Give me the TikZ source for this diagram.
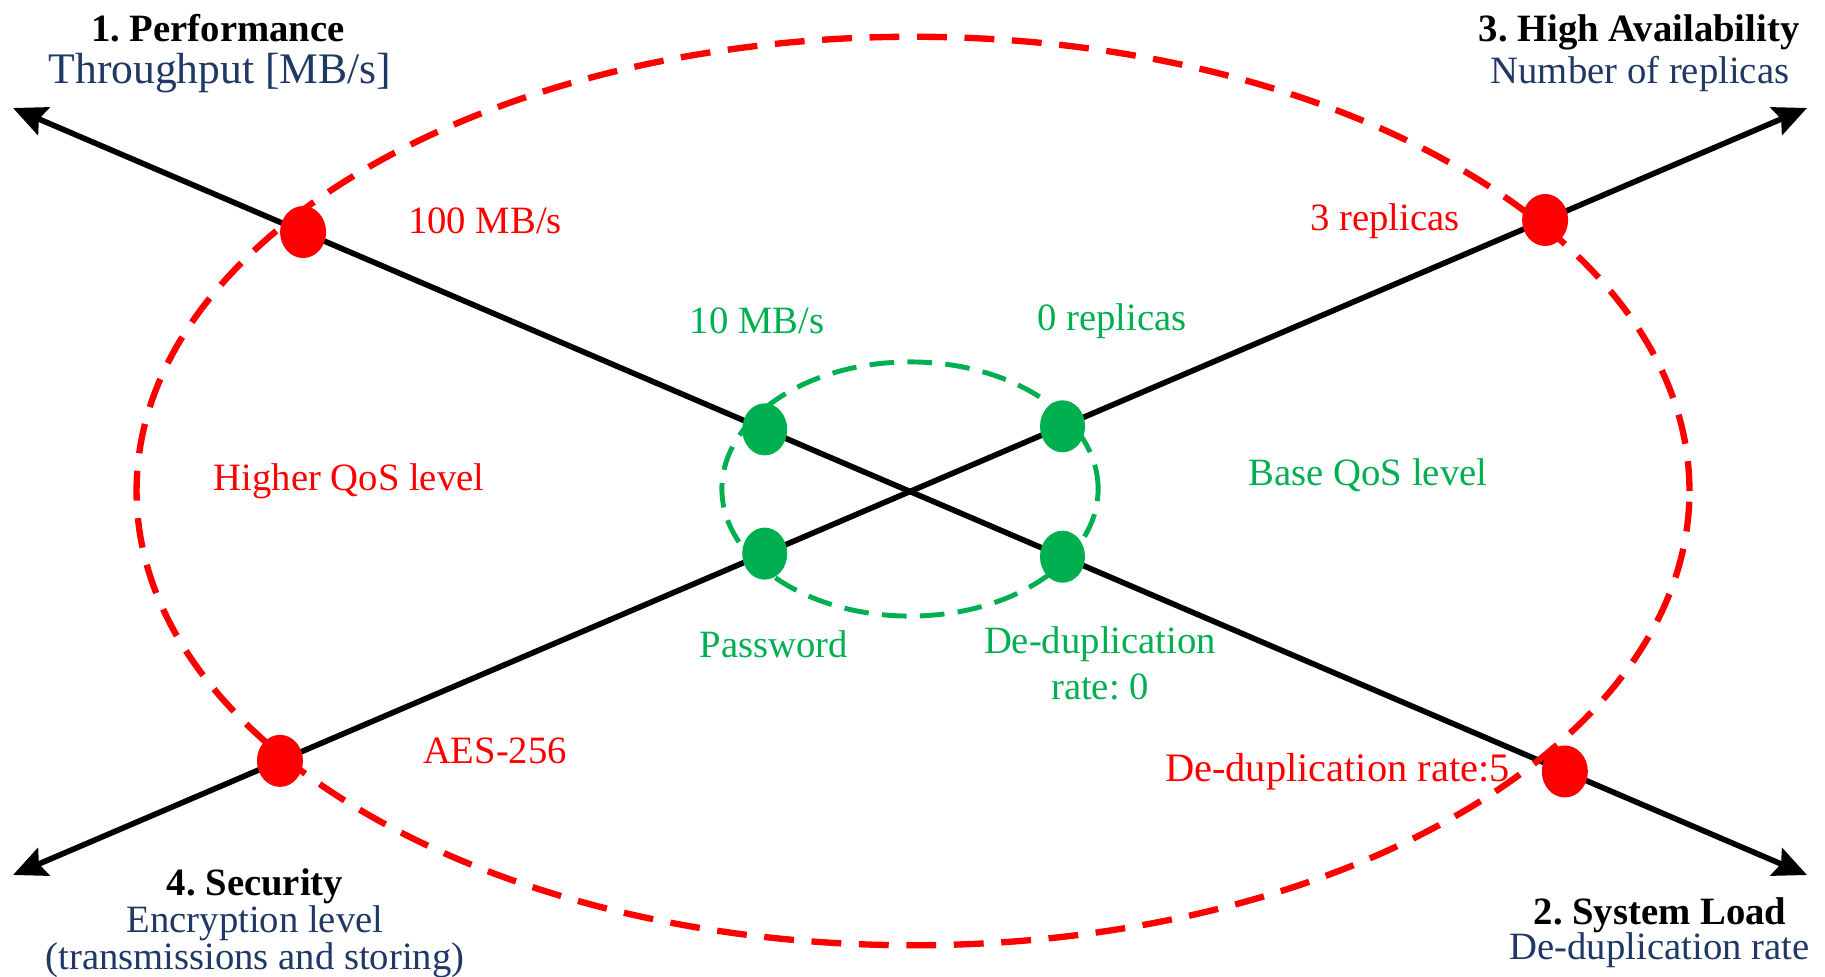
\documentclass[tikz,border=0pt]{standalone}
\usepackage{fontspec}
\setmainfont{Liberation Serif}
\usetikzlibrary{arrows.meta,calc,shapes.geometric}
\frenchspacing

\definecolor{qosred}{RGB}{255,0,0}
\definecolor{qosgreen}{RGB}{0,176,80}
\definecolor{axisblue}{RGB}{31,56,100}

\tikzset{
    axis/.style={line width=1.6pt, {Stealth[length=9.5pt,width=8.5pt,inset=1.5pt]}-{Stealth[length=9.5pt,width=8.5pt,inset=1.5pt]}},
    reddot/.style={ellipse, fill=qosred, minimum width=0.46cm, minimum height=0.52cm, inner sep=0pt},
    greendot/.style={ellipse, fill=qosgreen, minimum width=0.45cm, minimum height=0.52cm, inner sep=0pt},
    axistitle/.style={font=\fontsize{11}{12}\selectfont\bfseries, inner sep=0pt, anchor=base},
    axissub/.style={text=axisblue, font=\fontsize{11}{10.5}\selectfont, inner sep=0pt, anchor=base, align=center},
    redlabel/.style={text=qosred, font=\fontsize{11}{13}\selectfont, inner sep=1pt},
    greenlabel/.style={text=qosgreen, font=\fontsize{11}{13}\selectfont, inner sep=1pt, align=center},
}

\begin{document}
\begin{tikzpicture}[x=0.01cm, y=-0.01cm]
        \useasboundingbox (0,0) rectangle (1825,976);

        % --- 軸の端点 ---
        \coordinate (perf)  at (13,108);
        \coordinate (load)  at (1807,875);
        \coordinate (sec)   at (13,875);
        \coordinate (avail) at (1807,108);

        % --- 座標軸 ---
        \draw[axis] (perf) -- (load);
        \draw[axis] (sec) -- (avail);

        % --- QoSレベルの楕円 ---
        \draw[qosred, line width=1.8pt, dash pattern=on 8.5pt off 5pt]
            (913,491) ellipse [x radius=7.76cm, y radius=4.54cm];
        \draw[qosgreen, line width=1.4pt, dash pattern=on 7pt off 3.8pt]
            (910,489) ellipse [x radius=1.88cm, y radius=1.27cm];

        % --- 点 ---
        \node[reddot] (perfhi)  at ($(perf)!0.1617!(load)$) {};
        \node[reddot] (loadhi)  at ($(perf)!0.865!(load)$) {};
        \node[reddot] (sechi)   at ($(sec)!0.1488!(avail)$) {};
        \node[reddot] (availhi) at ($(sec)!0.854!(avail)$) {};
        \foreach \ax/\bx/\nm/\t in {perf/load/perflo/0.419, perf/load/loadlo/0.585,
                                    sec/avail/seclo/0.419, sec/avail/availlo/0.585} {
            \node[greendot] (\nm) at ($(\ax)!\t!(\bx)$) {};
        }

        % --- 軸のラベル ---
        % 複数行のノードは最終行のベースラインで置く
        \node[axistitle] (perfT)  at (218,42) {1. Performance};
        \node[axissub, font=\fontsize{12.4}{14}\selectfont] (perfS) at (220,84) {Throughput [MB/s]};
        \node[axistitle, anchor=base east] (availT) at (1800,42) {3. High Availability};
        \node[axissub, anchor=base east] (availS)   at (1790,84) {Number of replicas};
        \node[axistitle] (secT)   at (255,895) {4. Security};
        \node[axissub] (secS)     at (255,969) {Encryption level\\(transmissions and storing)};
        \node[axistitle] (loadT)  at (1660,924) {2. System Load};
        \node[axissub, anchor=base east] (loadS) at (1810,959) {De-duplication rate};

        % --- 値のラベル ---
        \node[redlabel] (perfV)  at (485,221) {100 MB/s};
        \node[redlabel] (availV) at (1385,221) {3 replicas};
        \node[redlabel] (secV)   at (495,751) {AES-256};
        \node[redlabel, anchor=east, font=\fontsize{11.5}{13}\selectfont] (loadV) at (1514,772) {De-duplication rate:5};
        \node[redlabel] (hiQoS)  at (349,481) {Higher QoS level};

        \node[greenlabel] (perfB)  at (757,321) {10 MB/s};
        \node[greenlabel] (availB) at (1112,321) {0 replicas};
        \node[greenlabel] (secB)   at (774,644) {Password};
        \node[greenlabel] (loadB)  at (1100,663) {De-duplication\\rate: 0};
        \node[greenlabel] (baseQoS) at (1368,475) {Base QoS level};

    \end{tikzpicture}
\end{document}
